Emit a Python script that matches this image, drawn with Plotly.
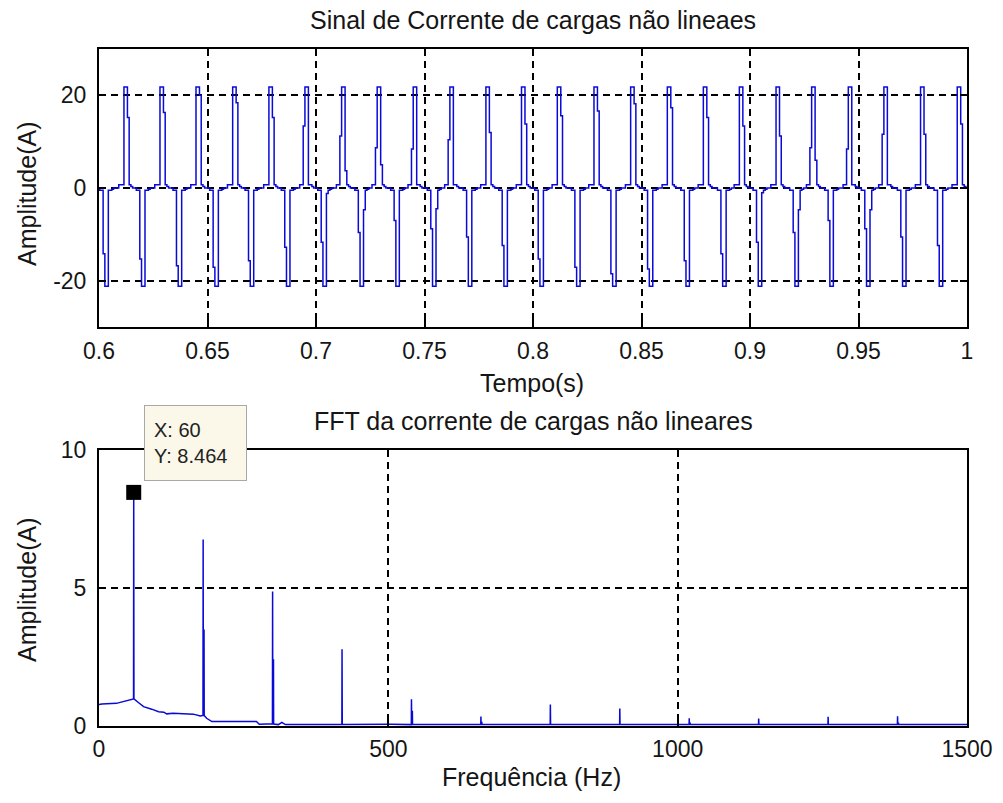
import plotly.graph_objects as go

W, H = 1003, 803

# ---------------- data: current waveform (pulse timings / levels) -------------
pos_times = [0.6123, 0.6289, 0.6455, 0.6624, 0.6791, 0.6957, 0.7126, 0.7290,
             0.7456, 0.7625, 0.7791, 0.7955, 0.8120, 0.8289, 0.8458, 0.8627,
             0.8793, 0.8959, 0.9128, 0.9292, 0.9461, 0.9625, 0.9794, 0.9963]
pos_peak = [21.8] * 24
pos_rise = [0, 0, 0, 0, 0, 13.4, 11.2, 8.7,
            8.4, 10.4, 0, 0, 0, 0, 0, 0,
            0, 0, 0, 8.7, 8.4, 11.6, 0, 0]
pos_fall = [15.2, 16.3, 20.0, 18.4, 15.2, 0, 3.7, 5.0,
            0, 0, 12.0, 13.8, 15.6, 16.6, 18.2, 17.3,
            15.2, 13.4, 11.2, 6.0, 0, 0, 11.6, 13.8]

neg_times = [0.6035, 0.6204, 0.6373, 0.6542, 0.6705, 0.6872, 0.7040, 0.7211,
             0.7376, 0.7545, 0.7710, 0.7874, 0.8040, 0.8209, 0.8375, 0.8544,
             0.8713, 0.8882, 0.9046, 0.9215, 0.9376, 0.9545, 0.9711, 0.9880]
neg_peak = [-21.2] * 24
neg_pre = [-14.2, -15.3, -16.8, -17.1, -15.7, -12.8, -11.7, -9.6,
           -7.0, -8.8, -10.6, -12.4, -15.3, -17.1, -18.5, -17.5,
           -15.7, -14.2, -11.7, -9.6, -7.0, -8.8, -10.6, -12.4]
neg_post = [0, 0, 0, 0, 0, 0, -1.2, -4.7,
            0, -4.5, 0, 0, 0, 0, 0, 0,
            0, 0, -1.0, -4.7, 0, -4.7, 0, 0]

pos_pedestal = 0.7
neg_pedestal = -0.5
step = 0.0008  # hold time of one sample (s)

time_ticks = [0.6, 0.65, 0.7, 0.75, 0.8, 0.85, 0.9, 0.95, 1.0]
time_labels = ["0.6", "0.65", "0.7", "0.75", "0.8", "0.85", "0.9", "0.95", "1"]
amp_ticks = [-20, 0, 20]
amp_labels = ["-20", "0", "20"]

# ---------------- data: FFT spectrum -------------
base_f = [0, 5, 30, 40, 51, 57, 68, 77, 91, 103, 112, 117, 128, 163, 175, 186, 195,
          272, 277, 290, 310, 316, 322, 330, 505, 1500]
base_a = [0.78, 0.80, 0.82, 0.88, 0.94, 0.98, 0.85, 0.70, 0.61, 0.52, 0.50, 0.44, 0.46,
          0.43, 0.36, 0.28, 0.16, 0.16, 0.06, 0.07, 0.05, 0.13, 0.05, 0.05, 0.06, 0.05]
peak_f = [60, 180, 300, 420, 540, 660, 780, 900, 1020, 1140, 1260, 1380]
peak_a = [8.464, 6.76, 4.87, 2.78, 0.97, 0.34, 0.78, 0.63, 0.28, 0.27, 0.33, 0.35]
side_a = [0.0, 3.50, 2.42, 0.0, 0.55, 0.15, 0.0, 0.0, 0.12, 0.0, 0.0, 0.12]
foot_a = [0.98, 0.38, 0.07, 0.05, 0.05, 0.05, 0.05, 0.05, 0.05, 0.05, 0.05, 0.05]

freq_ticks = [0, 500, 1000, 1500]
fft_ticks = [0, 5, 10]

# ---------------- build waveform staircase -------------
events = []
for t, pk, r, f in zip(pos_times, pos_peak, pos_rise, pos_fall):
    lv = [pos_pedestal, pos_pedestal, r if r else pos_pedestal, pk, pk,
          f if f else pos_pedestal, pos_pedestal, pos_pedestal * 0.5]
    events.append((t - 4 * step, lv))
for t, pk, pre, post in zip(neg_times, neg_peak, neg_pre, neg_post):
    lv = [neg_pedestal, neg_pedestal, pre if pre else neg_pedestal, pk, pk,
          post if post else neg_pedestal, neg_pedestal, neg_pedestal * 0.5]
    events.append((t - 4 * step, lv))
events.sort(key=lambda e: e[0])

tx, ty = [0.59], [0.0]
for start, lv in events:
    for k, v in enumerate(lv):
        tx.append(start + k * step)
        ty.append(v)
    tx.append(start + len(lv) * step)
    ty.append(0.0)
tx.append(1.01)
ty.append(0.0)

# ---------------- build spectrum line -------------
fx, fy = [], []
pi = 0
for bf, ba in zip(base_f, base_a):
    while pi < len(peak_f) and peak_f[pi] < bf:
        f0 = peak_f[pi]
        fx += [f0 - 0.3, f0]
        fy += [foot_a[pi], peak_a[pi]]
        if side_a[pi]:
            fx += [f0 + 0.3, f0 + 1.5, f0 + 1.8]
            fy += [foot_a[pi], side_a[pi], foot_a[pi]]
        else:
            fx += [f0 + 0.4]
            fy += [foot_a[pi]]
        pi += 1
    fx.append(bf)
    fy.append(ba)

BLUE = "#0a0ad8"
FONT = "Liberation Sans, Arial, sans-serif"
TXT = "#151515"

fig = go.Figure()
fig.add_trace(go.Scatter(x=tx, y=ty, mode="lines", xaxis="x", yaxis="y",
                         line=dict(color=BLUE, width=1.5, shape="hv"), hoverinfo="skip"))
fig.add_trace(go.Scatter(x=fx, y=fy, mode="lines", xaxis="x2", yaxis="y2",
                         line=dict(color=BLUE, width=1.5), hoverinfo="skip"))
fig.add_trace(go.Scatter(x=[peak_f[0]], y=[peak_a[0]], mode="markers", xaxis="x2", yaxis="y2",
                         marker=dict(symbol="square", size=15, color="black"),
                         hoverinfo="skip"))

xd = [99 / W, 967 / W]
axis_common = dict(showline=True, linecolor="black", linewidth=2, mirror="ticks",
                   ticks="inside", ticklen=7, tickwidth=1.5, tickcolor="black",
                   showgrid=True, gridcolor="black", gridwidth=1.6, griddash="7px,5px",
                   zeroline=False, tickfont=dict(family=FONT, size=23, color=TXT),
                   automargin=False, fixedrange=True)

fig.update_layout(
    width=W, height=H, margin=dict(l=0, r=0, t=0, b=0),
    paper_bgcolor="white", plot_bgcolor="white", showlegend=False,
    xaxis=dict(domain=xd, anchor="y", range=[0.6, 1.0], tickvals=time_ticks,
               ticktext=time_labels, ticklabelstandoff=2, **axis_common),
    yaxis=dict(domain=[1 - 327 / H, 1 - 49 / H], anchor="x", range=[-30, 30],
               tickvals=amp_ticks, ticktext=amp_labels, ticklabelstandoff=6, **axis_common),
    xaxis2=dict(domain=xd, anchor="y2", range=[0, 1500], tickvals=freq_ticks,
                ticklabelstandoff=1, **axis_common),
    yaxis2=dict(domain=[1 - 726 / H, 1 - 450 / H], anchor="x2", range=[0, 10],
                tickvals=fft_ticks, ticklabelstandoff=6, **axis_common),
)

def ann(text, xp, yp, size=25, angle=0):
    fig.add_annotation(text=text, x=xp / W, y=1 - yp / H, xref="paper", yref="paper",
                       xanchor="center", yanchor="middle", showarrow=False, textangle=angle,
                       font=dict(family=FONT, size=size, color=TXT))

ann("Sinal de Corrente de cargas não lineaes", 533, 20)
ann("Tempo(s)", 532, 383)
ann("Amplitude(A)", 27, 194, angle=-90)
ann("FFT da corrente de cargas não lineares", 533, 421)
ann("Frequência (Hz)", 531, 777)
ann("Amplitude(A)", 27, 590, angle=-90)

# datatip
fig.add_annotation(text=f"X: {peak_f[0]}<br>Y: {peak_a[0]}", x=144 / W, y=1 - 405 / H,
                   xref="paper", yref="paper", xanchor="left", yanchor="top",
                   showarrow=False, align="left", bgcolor="#FBF8EA",
                   bordercolor="#A8A8A8", borderwidth=1, borderpad=9, width=83, height=56,
                   valign="middle", font=dict(family=FONT, size=20, color="#222222"))

fig.write_html("out.html")
